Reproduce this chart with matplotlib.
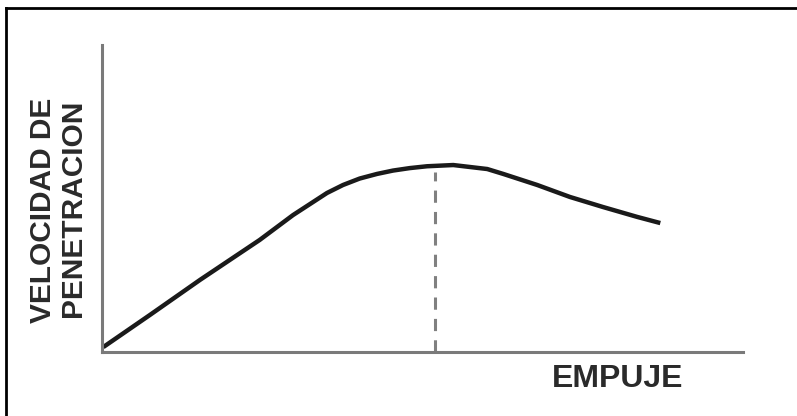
import matplotlib
matplotlib.use('Agg')
from matplotlib import pyplot as plt
from matplotlib.lines import Line2D

# empuje (x) vs velocidad de penetracion (y), arbitrary 0-100 units
empuje = [0.2, 7.5, 15.3, 24.6, 29.8, 35.1, 37.6, 40.2, 42.9, 45.4, 48.0, 50.7, 54.8,
          60.1, 62.6, 67.9, 73.0, 78.2, 83.5, 87.1]
velocidad = [1.6, 12.1, 23.5, 36.5, 44.6, 51.8, 54.4, 56.5, 58.0, 59.1, 59.9, 60.5, 60.9,
             59.6, 58.0, 54.4, 50.5, 47.2, 44.0, 42.0]

# empuje optimo (dashed line)
empuje_opt = 51.9
velocidad_max = 58.6

fig = plt.figure(figsize=(7.97, 4.16), dpi=100)
plt.rcParams['font.family'] = ['Liberation Sans', 'DejaVu Sans']

# scanned frame: only left and top edges show
fig.add_artist(Line2D([6 / 797, 6 / 797], [0, 1 - 8 / 416], color='black', lw=2))
fig.add_artist(Line2D([6 / 797, 1], [1 - 8 / 416, 1 - 8 / 416], color='black', lw=2))

ax = fig.add_axes([102 / 797, (416 - 352) / 416, 641 / 797, 307 / 416])
ax.plot(empuje, velocidad, color='#1a1a1a', lw=3.2, solid_capstyle='butt',
        solid_joinstyle='round')
ax.plot([empuje_opt, empuje_opt], [0, velocidad_max], color='#808080', lw=2.2,
        dashes=(4, 3))

ax.set_xlim(0, 100)
ax.set_ylim(0, 100)
for side in ['top', 'right']:
    ax.spines[side].set_visible(False)
for side in ['left', 'bottom']:
    ax.spines[side].set_color('#7a7a7a')
    ax.spines[side].set_linewidth(2.2)
ax.set_xticks([])
ax.set_yticks([])
ax.patch.set_alpha(0)

fig.text(43 / 797, 1 - 210 / 416, 'VELOCIDAD DE', rotation=90, ha='center', va='center',
         fontsize=21.5, fontweight='bold', color='#2a2a2a')
fig.text(73 / 797, 1 - 208 / 416, 'PENETRACION', rotation=90, ha='center', va='center',
         fontsize=21.5, fontweight='bold', color='#2a2a2a')
fig.text(618 / 797, 1 - 379 / 416, 'EMPUJE', ha='center', va='center',
         fontsize=23, fontweight='bold', color='#2a2a2a')

fig.savefig('out.png', dpi=100)
